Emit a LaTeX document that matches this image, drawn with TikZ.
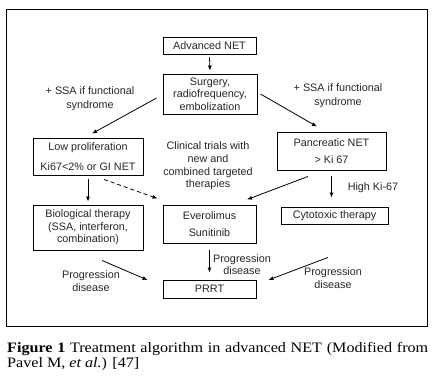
\documentclass[tikz,border=0pt]{standalone}
\usepackage{fontspec}
\setmainfont{Liberation Sans}
\newfontfamily\capfont[FakeStretch=1.12]{Liberation Serif}
\usetikzlibrary{arrows.meta,calc}
\begin{document}
\begin{tikzpicture}[x=1pt,y=-1pt,
  box/.style={draw, line width=0.9pt, inner sep=0pt, align=center, text=black!85, font=\fontsize{10.8}{12.5}\selectfont},
  lbl/.style={inner sep=0pt, align=center, text=black!85, font=\fontsize{10.8}{13.5}\selectfont},
  arr/.style={line width=0.8pt, -{Latex[length=5pt,width=4pt]}},
  captext/.style={inner sep=0pt, anchor=base west, font=\capfont\fontsize{14.4}{15}\selectfont},
]
\useasboundingbox (0,0) rectangle (435,380);
\draw[line width=0.8pt] (6,9) rectangle (427,326);

\node[box, minimum width=93pt, minimum height=17pt] (adv) at (209.5,45.5) {Advanced NET};
\node[box, minimum width=94pt, minimum height=40pt] (surg) at (210,94) {Surgery,\\radiofrequency,\\embolization};
\node[box, minimum width=110pt, minimum height=37pt] (lowp) at (88,156.5) {Low proliferation\\[7pt]Ki67<2\% or GI NET};
\node[box, minimum width=109pt, minimum height=38pt] (panc) at (331.5,151) {Pancreatic NET\\[5pt]> Ki 67};
\node[box, minimum width=110pt, minimum height=45pt] (bio) at (88,227.5) {Biological therapy\\(SSA, interferon,\\combination)};
\node[box, minimum width=93pt, minimum height=38pt] (ever) at (209.5,224) {Everolimus\\[5pt]Sunitinib};
\node[box, minimum width=107pt, minimum height=17pt] (cyto) at (334.5,215.5) {Cytotoxic therapy};
\node[box, minimum width=93pt, minimum height=18pt] (prrt) at (209.5,289) {PRRT};

\node[lbl] (ssal) at (90,98.5) {+ SSA if functional\\syndrome};
\node[lbl] (ssar) at (338,95.5) {+ SSA if functional\\syndrome};
\node[lbl, font=\fontsize{10.8}{12.6}\selectfont] (trials) at (208,166) {Clinical trials with\\new and\\combined targeted\\therapies};
\node[lbl] (highki) at (373,188) {High Ki-67};
\node[lbl, font=\fontsize{10.8}{12.5}\selectfont] (progm) at (242,264.5) {Progression\\disease};
\node[lbl] (progl) at (91,281) {Progression\\disease};
\node[lbl, font=\fontsize{10.8}{12.5}\selectfont] (progr) at (333,278) {Progression\\disease};

\draw[arr] ($(adv.south)+(0,3)$) -- ($(surg.north)+(0,-3)$);
\draw[arr] ($(surg.west)+(-6,4)$) -- ($(lowp.north)+(4,-4)$);
\draw[arr] ($(surg.east)+(3,0)$) -- ($(panc.north)+(-14.5,-5)$);
\draw[arr] ($(lowp.south)+(0,4)$) -- ($(bio.north)+(0,-3)$);
\draw[arr, dashed, dash pattern=on 4pt off 3pt] ($(lowp.south)+(16,4)$) -- ($(ever.north west)+(-5,-6)$);
\draw[arr] ($(panc.south)+(-23.5,6)$) -- ($(ever.north)+(37.5,-5)$);
\draw[arr] ($(panc.south)+(0,6)$) -- ($(panc.south |- cyto.north)+(0,-9)$);
\draw[arr] ($(ever.south)+(0,7)$) -- ($(prrt.north)+(0,-7)$);
\draw[arr] ($(bio.south)+(14,10)$) -- ($(prrt.west)+(-15,-9)$);
\draw[arr] ($(cyto.south)+(-6.5,33)$) -- ($(prrt.east)+(12,-9)$);

\node[captext] (cap1) at (7,352.5) {\makebox[421pt][s]{\textbf{Figure 1} Treatment algorithm in advanced NET (Modified from}};
\node[captext] (cap2) at (7,367.5) {Pavel M, \textit{et al.}) [47]};
\end{tikzpicture}
\end{document}
